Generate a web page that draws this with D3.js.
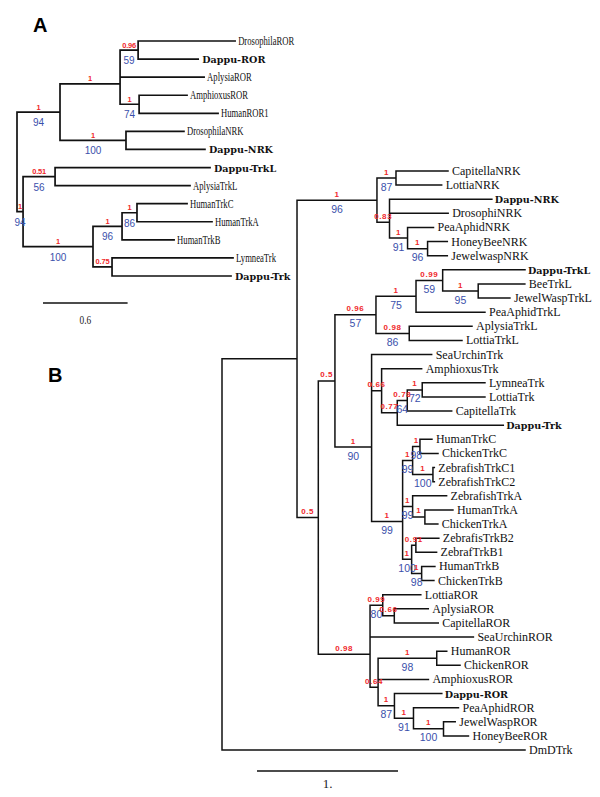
<!DOCTYPE html>
<html><head><meta charset="utf-8">
<script src="https://cdn.jsdelivr.net/npm/d3@7"></script>
<style>body{margin:0;background:#fff}</style>
</head><body>
<svg id="c" width="600" height="797"></svg>
<script>
// rows: [node, parent, branch length (subst./site), posterior probability, bootstrap]
const treeA = [
  ["rootA", "", 0, "", ""],
  ["a1", "rootA", 0.305, "1", "94"],
  ["a2", "a1", 0.426, "1", ""],
  ["a3", "a2", 0.128, "0.96", "59"],
  ["DrosophilaROR", "a3", 0.688, "", ""],
  ["Dappu-ROR", "a3", 0.426, "", ""],
  ["AplysiaROR", "a2", 0.596, "", ""],
  ["a4", "a2", 0.135, "1", "74"],
  ["AmphioxusROR", "a4", 0.340, "", ""],
  ["HumanROR1", "a4", 0.560, "", ""],
  ["a5", "a1", 0.468, "1", "100"],
  ["DrosophilaNRK", "a5", 0.411, "", ""],
  ["Dappu-NRK", "a5", 0.560, "", ""],
  ["a6", "rootA", 0.043, "1", "94"],
  ["a7", "a6", 0.227, "0.51", "56"],
  ["Dappu-TrkL", "a7", 1.099, "", ""],
  ["AplysiaTrkL", "a7", 0.957, "", ""],
  ["a8", "a6", 0.496, "1", "100"],
  ["a9", "a8", 0.206, "1", "96"],
  ["a10", "a9", 0.106, "1", "86"],
  ["HumanTrkC", "a10", 0.355, "", ""],
  ["HumanTrkA", "a10", 0.532, "", ""],
  ["HumanTrkB", "a9", 0.369, "", ""],
  ["a11", "a8", 0.135, "0.75", ""],
  ["LymneaTrk", "a11", 0.858, "", ""],
  ["Dappu-Trk", "a11", 0.844, "", ""]
];

const treeB = [
  ["rootB", "", 0, "", ""],
  ["n1", "rootB", 0.532, "", ""],
  ["n2", "n1", 0.567, "1", "96"],
  ["n3", "n2", 0.135, "1", "87"],
  ["CapitellaNRK", "n3", 0.369, "", ""],
  ["LottiaNRK", "n3", 0.324, "", ""],
  ["n4", "n2", 0.089, "0.83", ""],
  ["Dappu-NRK", "n4", 0.726, "", ""],
  ["DrosophiNRK", "n4", 0.416, "", ""],
  ["n5", "n4", 0.128, "1", "91"],
  ["PeaAphidNRK", "n5", 0.184, "", ""],
  ["n6", "n5", 0.142, "1", "96"],
  ["HoneyBeeNRK", "n6", 0.140, "", ""],
  ["JewelwaspNRK", "n6", 0.140, "", ""],
  ["n7", "n1", 0.151, "0.5", ""],
  ["n8", "n7", 0.118, "0.5", ""],
  ["n9", "n8", 0.291, "0.96", "57"],
  ["n10", "n9", 0.284, "1", "75"],
  ["n11", "n10", 0.189, "0.99", "59"],
  ["Dappu-TrkL", "n11", 0.584, "", ""],
  ["n12", "n11", 0.252, "1", "95"],
  ["BeeTrkL", "n12", 0.331, "", ""],
  ["JewelWaspTrkL", "n12", 0.225, "", ""],
  ["PeaAphidTrkL", "n10", 0.489, "", ""],
  ["n13", "n9", 0.236, "0.98", "86"],
  ["AplysiaTrkL", "n13", 0.445, "", ""],
  ["LottiaTrkL", "n13", 0.374, "", ""],
  ["n14", "n8", 0.260, "1", "90"],
  ["SeaUrchinTrk", "n14", 0.426, "", ""],
  ["n15", "n14", 0.071, "0.66", ""],
  ["AmphioxusTrk", "n15", 0.284, "", ""],
  ["n16", "n15", 0.111, "0.77", ""],
  ["n17", "n16", 0.071, "0.78", "64"],
  ["n18", "n17", 0.106, "1", "72"],
  ["LymneaTrk", "n18", 0.445, "", ""],
  ["LottiaTrk", "n18", 0.445, "", ""],
  ["CapitellaTrk", "n17", 0.315, "", ""],
  ["Dappu-Trk", "n16", 0.752, "", ""],
  ["n19", "n14", 0.220, "1", "99"],
  ["n20", "n19", 0.071, "1", "99"],
  ["n21", "n20", 0.052, "1", "98"],
  ["HumanTrkC", "n21", 0.085, "", ""],
  ["ChickenTrkC", "n21", 0.128, "", ""],
  ["n22", "n20", 0.144, "1", "100"],
  ["ZebrafishTrkC1", "n22", 0.010, "", ""],
  ["ZebrafishTrkC2", "n22", 0.010, "", ""],
  ["n23", "n19", 0.071, "1", "99"],
  ["ZebrafishTrkA", "n23", 0.241, "", ""],
  ["n24", "n23", 0.087, "1", ""],
  ["HumanTrkA", "n24", 0.199, "", ""],
  ["ChickenTrkA", "n24", 0.092, "", ""],
  ["n25", "n19", 0.064, "1", "100"],
  ["n26", "n25", 0.030, "0.91", ""],
  ["ZebrafisTrkB2", "n26", 0.163, "", ""],
  ["ZebrafTrkB1", "n26", 0.147, "", ""],
  ["n27", "n25", 0.071, "1", "98"],
  ["HumanTrkB", "n27", 0.094, "", ""],
  ["ChickenTrkB", "n27", 0.087, "", ""],
  ["n28", "n7", 0.367, "0.98", ""],
  ["n29", "n28", 0.090, "0.99", "80"],
  ["LottiaROR", "n29", 0.270, "", ""],
  ["n30", "n29", 0.082, "0.66", ""],
  ["AplysiaROR", "n30", 0.241, "", ""],
  ["CapitellaROR", "n30", 0.312, "", ""],
  ["SeaUrchinROR", "n28", 0.733, "", ""],
  ["n31", "n28", 0.057, "0.64", ""],
  ["n32", "n31", 0.416, "1", "98"],
  ["HumanROR", "n32", 0.071, "", ""],
  ["ChickenROR", "n32", 0.165, "", ""],
  ["AmphioxusROR", "n31", 0.357, "", ""],
  ["n33", "n31", 0.116, "1", "87"],
  ["Dappu-ROR", "n33", 0.336, "", ""],
  ["n34", "n33", 0.135, "1", "91"],
  ["PeaAphidROR", "n34", 0.319, "", ""],
  ["n35", "n34", 0.213, "1", "100"],
  ["JewelWaspROR", "n35", 0.083, "", ""],
  ["HoneyBeeROR", "n35", 0.177, "", ""],
  ["DmDTrk", "rootB", 2.149, "", ""]
];

const panelLabels = ["A", "B"];
const scaleBarLengths = [0.6, 1];
const scaleBarTexts = ["0.6", "1."];

const RED = "#f0292b", BLUE = "#3a50ab";
const svg = d3.select("#c");
svg.append("rect").attr("width", 600).attr("height", 797).attr("fill", "#fff");

function drawTree(rows, cfg) {
  const root = d3.stratify().id(d => d[0]).parentId(d => d[1] === "" ? null : d[1])(rows);
  root.eachBefore(n => { n.dist = n.parent ? n.parent.dist + n.data[2] : 0; });
  const leaves = root.leaves();
  leaves.forEach((l, i) => l.idx = i);
  const x = d3.scaleLinear().domain([0, 1]).range([cfg.x0, cfg.x0 + cfg.ppu]);
  const y = d3.scaleLinear().domain([0, leaves.length - 1]).range(cfg.yRange);
  root.eachAfter(n => {
    if (n.children) n.py = n.children.reduce((a, c, i) => i === 0 ? c.py : (a + c.py) / 2, 0);
    else n.py = y(n.idx);
  });
  const g = svg.append("g");
  const p = d3.path();
  root.each(n => {
    if (n.parent) { p.moveTo(x(n.parent.dist), n.py); p.lineTo(x(n.dist), n.py); }
    if (n.children) {
      const f = n.children[0], l = n.children[n.children.length - 1];
      p.moveTo(x(n.dist), f.py); p.lineTo(x(n.dist), l.py);
    }
  });
  g.append("path").attr("d", p.toString()).attr("fill", "none")
    .attr("stroke", "#111").attr("stroke-width", cfg.sw).attr("stroke-linecap", "square");

  // leaf labels
  leaves.forEach(l => {
    const bold = l.id.startsWith("Dappu-");
    const t = g.append("text")
      .attr("transform", `translate(${x(l.dist) + (bold ? cfg.boldOff : cfg.off)},${l.py + 4})` + (bold ? "" : ` scale(${cfg.sx},1)`))
      .text(l.id).attr("fill", "#111");
    if (bold) t.attr("font-family", "DejaVu Serif").attr("font-weight", "bold").attr("font-size", 9.6);
    else t.attr("font-family", "Liberation Serif, Times New Roman, serif").attr("font-size", cfg.leafFs);
  });

  // support values
  root.descendants().forEach(n => {
    if (!n.parent) return;
    const mx = (x(n.parent.dist) + x(n.dist)) / 2;
    if (n.data[3] !== "") {
      g.append("text").attr("x", mx).attr("y", n.py + cfg.redDy).attr("text-anchor", "middle")
        .attr("font-family", "Liberation Sans, Arial, sans-serif").attr("font-weight", "bold")
        .attr("font-size", cfg.redFs).attr("letter-spacing", cfg.redLs).attr("fill", RED).text(n.data[3]);
    }
    if (n.data[4] !== "") {
      g.append("text").attr("x", mx).attr("y", n.py + cfg.blueDy).attr("text-anchor", "middle")
        .attr("font-family", "Liberation Sans, Arial, sans-serif")
        .attr("font-size", cfg.blueFs).attr("fill", BLUE).text(n.data[4]);
    }
  });

  // scale bar
  const bw = x(cfg.bar) - x(0);
  g.append("line").attr("x1", cfg.barX).attr("x2", cfg.barX + bw).attr("y1", cfg.barY).attr("y2", cfg.barY)
    .attr("stroke", "#111").attr("stroke-width", cfg.sw);
  g.append("text").attr("transform", `translate(${cfg.barX + bw / 2},${cfg.barY + cfg.barTextDy}) scale(${cfg.barSx},1)`)
    .attr("text-anchor", "middle").attr("font-family", "Liberation Serif, Times New Roman, serif")
    .attr("font-size", 13).attr("fill", "#222").text(cfg.barText);

  svg.append("text").attr("x", cfg.labX).attr("y", cfg.labY).attr("font-family", "Liberation Sans, Arial, sans-serif")
    .attr("font-weight", "bold").attr("font-size", 20).text(cfg.panel);
}

drawTree(treeA, {
  x0: 17, ppu: 141, yRange: [41, 276], sw: 1.7, off: 3, boldOff: 4, sx: 0.64, leafFs: 13.5,
  redDy: -2.5, redFs: 7.5, redLs: -0.2, blueDy: 14, blueFs: 10,
  bar: scaleBarLengths[0], barX: 43, barY: 303, barTextDy: 21, barSx: 0.72, barText: scaleBarTexts[0],
  panel: panelLabels[0], labX: 33, labY: 32
});
drawTree(treeB, {
  x0: 222, ppu: 141, yRange: [171, 750], sw: 1.5, off: 4, boldOff: 3, sx: 1, leafFs: 12,
  redDy: -3.5, redFs: 8, redLs: 0.6, blueDy: 12.5, blueFs: 10.5,
  bar: scaleBarLengths[1], barX: 257, barY: 771, barTextDy: 17, barSx: 1, barText: scaleBarTexts[1],
  panel: panelLabels[1], labX: 48, labY: 382
});
</script>
</body></html>
